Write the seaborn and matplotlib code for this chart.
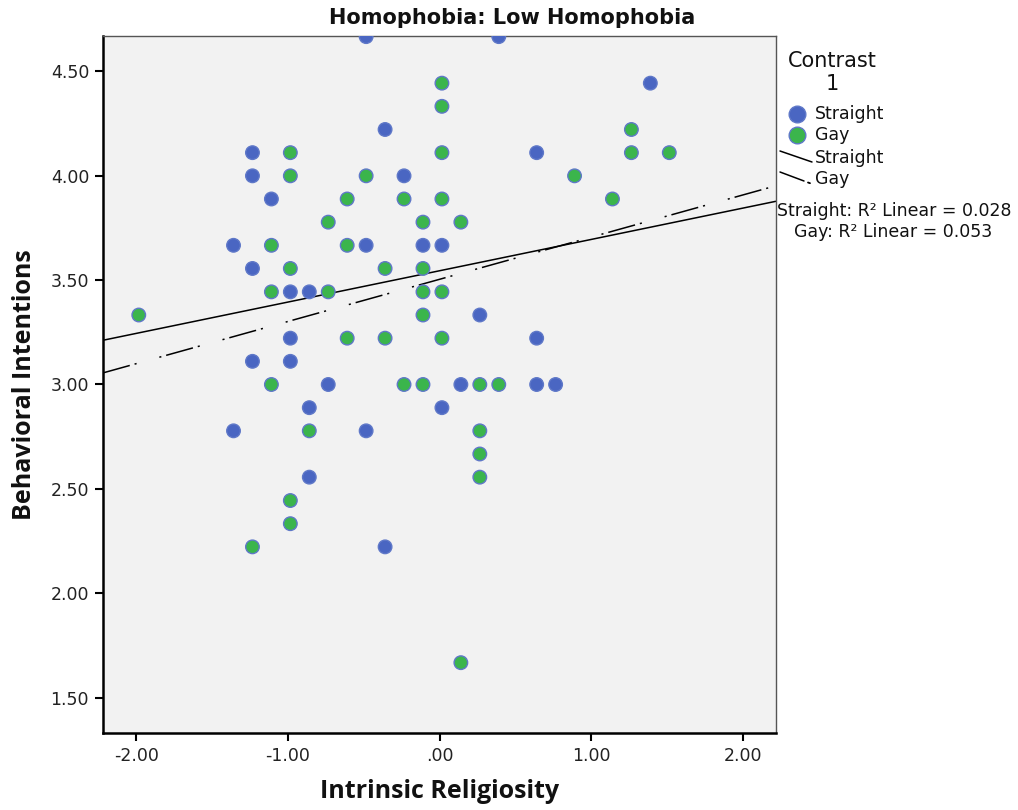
import numpy as np
import pandas as pd
import matplotlib
matplotlib.use("Agg")
import matplotlib.pyplot as plt
from matplotlib.lines import Line2D
from matplotlib.ticker import FuncFormatter, FixedLocator
import seaborn as sns

# Intrinsic religiosity (centered) and behavioral intentions, low-homophobia panel
straight_x = [-0.484, 0.391, 1.391, -0.359, -1.234, 0.641, -1.234, -0.234, -1.109,
              -1.359, -0.484, -0.109, 0.016, -1.234, -0.984, -0.859, 0.266, -0.984,
              0.641, -1.234, -0.984, -0.734, 0.141, 0.641, 0.766, -0.859, 0.016,
              -1.359, -0.484, -0.859, -0.359]
straight_y = [4.667, 4.667, 4.444, 4.222, 4.111, 4.111, 4.000, 4.000, 3.889,
              3.667, 3.667, 3.667, 3.667, 3.556, 3.444, 3.444, 3.333, 3.222,
              3.222, 3.111, 3.111, 3.000, 3.000, 3.000, 3.000, 2.889, 2.889,
              2.778, 2.778, 2.556, 2.222]

gay_x = [0.016, 0.016, 1.266, -0.984, 0.016, 1.266, 1.516, -0.984, -0.484, 0.891,
         -0.609, -0.234, 0.016, 1.141, -0.734, -0.109, 0.141, -1.109, -0.609,
         -0.984, -0.359, -0.109, -1.109, -0.734, -0.109, 0.016, -1.984, -0.109,
         -0.609, -0.359, 0.016, -1.109, -0.234, -0.109, 0.266, 0.391, -0.859,
         0.266, 0.266, 0.266, -0.984, -0.984, -1.234, 0.141]
gay_y = [4.444, 4.333, 4.222, 4.111, 4.111, 4.111, 4.111, 4.000, 4.000, 4.000,
         3.889, 3.889, 3.889, 3.889, 3.778, 3.778, 3.778, 3.667, 3.667,
         3.556, 3.556, 3.556, 3.444, 3.444, 3.444, 3.444, 3.333, 3.333,
         3.222, 3.222, 3.222, 3.000, 3.000, 3.000, 3.000, 3.000, 2.778,
         2.778, 2.667, 2.556, 2.444, 2.333, 2.222, 1.667]

groups = ["Straight", "Gay"]
# linear fit per group: intercept, slope, R-squared
fit_intercept = [3.545, 3.504]
fit_slope = [0.150, 0.202]
fit_r2 = [0.028, 0.053]

x_ticks = [-2.0, -1.0, 0.0, 1.0, 2.0]
y_ticks = [1.5, 2.0, 2.5, 3.0, 3.5, 4.0, 4.5]

df = pd.DataFrame({
    "Intrinsic Religiosity": straight_x + gay_x,
    "Behavioral Intentions": straight_y + gay_y,
    "Contrast": ["Straight"] * len(straight_x) + ["Gay"] * len(gay_x),
})

colors = {"Straight": "#4a66c2", "Gay": "#3bb54c"}
edge = "#5f78c8"
bg = "#f2f2f2"

sns.set_theme(style="white")
plt.rcParams["font.family"] = ["DejaVu Sans"]

fig = plt.figure(figsize=(10.18, 8.10), dpi=100)
ax = fig.add_axes([103 / 1018, 1 - 733 / 810, (776 - 103) / 1018, (733 - 36) / 810])
ax.set_facecolor(bg)

XLIM = (-2.22, 2.22)
YLIM = (1.33, 4.67)
ax.set_xlim(*XLIM)
ax.set_ylim(*YLIM)

# fit lines spanning the whole x range (dash-dot in points: dash, gap, dot, gap, dot, gap)
dashdot = [20, 3.6, 1.5, 17, 1.5, 3.6]
xs = np.array(XLIM)
for g, b0, b1 in zip(groups, fit_intercept, fit_slope):
    (ln,) = ax.plot(xs, b0 + b1 * xs, color="black", lw=1.1, zorder=1,
                    solid_capstyle="butt", dash_capstyle="butt")
    if g == "Gay":
        ln.set_dashes(dashdot)
        ln._dash_pattern = (0, dashdot)  # keep lengths in points regardless of width
        ln._unscaled_dash_pattern = (0, dashdot)

sns.scatterplot(data=df, x="Intrinsic Religiosity", y="Behavioral Intentions",
                hue="Contrast", hue_order=groups, palette=colors, s=95,
                edgecolor=edge, linewidth=1.0, legend=False, ax=ax, zorder=3)

ax.set_xlim(*XLIM)
ax.set_ylim(*YLIM)

def spss_fmt(v, _):
    s = f"{v:.2f}"
    if s.startswith("0."):
        s = s[1:]
    elif s.startswith("-0."):
        s = "-" + s[2:]
    return s

ax.xaxis.set_major_locator(FixedLocator(x_ticks))
ax.yaxis.set_major_locator(FixedLocator(y_ticks))
ax.xaxis.set_major_formatter(FuncFormatter(spss_fmt))
ax.yaxis.set_major_formatter(FuncFormatter(spss_fmt))
ax.tick_params(axis="both", which="major", direction="out", length=6, width=1.5,
               color="black", labelsize=12.5, labelcolor="#222222", pad=4,
               left=True, bottom=True)

for side in ["left", "bottom"]:
    ax.spines[side].set_color("black")
    ax.spines[side].set_linewidth(1.8)
for side in ["top", "right"]:
    ax.spines[side].set_color("#555555")
    ax.spines[side].set_linewidth(1.0)

ax.set_xlabel("Intrinsic Religiosity", fontsize=18, fontweight="bold",
              family="Open Sans", labelpad=10, color="#111111")
ax.set_ylabel("Behavioral Intentions", fontsize=18, fontweight="bold",
              family="Open Sans", labelpad=10, color="#111111")

def fx(px):
    return px / 1018

def fy(py):
    return 1 - py / 810

fig.text(fx(512), fy(18), "Homophobia: Low Homophobia", ha="center", va="center",
         fontsize=15, fontweight="bold", color="#111111")

# legend panel on the right
fig.text(fx(832), fy(61), "Contrast", ha="center", va="center", fontsize=15, color="#111111")
fig.text(fx(832), fy(84), "1", ha="center", va="center", fontsize=15, color="#111111")
for g, py in zip(groups, [114, 135]):
    fig.add_artist(Line2D([fx(797)], [fy(py)], transform=fig.transFigure, marker="o",
                          markersize=12, markerfacecolor=colors[g],
                          markeredgecolor=edge, markeredgewidth=1.0, linestyle="none"))
    fig.text(fx(815), fy(py), g, ha="left", va="center", fontsize=12.5, color="#111111")

fig.add_artist(Line2D([fx(780), fx(812)], [fy(151), fy(162)], transform=fig.transFigure,
                      color="black", lw=1.1))
fig.text(fx(815), fy(158), "Straight", ha="left", va="center", fontsize=12.5, color="#111111")
fig.add_artist(Line2D([fx(780), fx(804)], [fy(172), fy(181)], transform=fig.transFigure,
                      color="black", lw=1.1))
fig.add_artist(Line2D([fx(808), fx(810)], [fy(182.5), fy(183.2)], transform=fig.transFigure,
                      color="black", lw=1.3))
fig.text(fx(815), fy(179), "Gay", ha="left", va="center", fontsize=12.5, color="#111111")

fig.text(fx(894), fy(211), f"Straight: R\u00b2 Linear = {fit_r2[0]:.3f}",
         ha="center", va="center", fontsize=12.5, color="#111111")
fig.text(fx(893), fy(232), f"Gay: R\u00b2 Linear = {fit_r2[1]:.3f}",
         ha="center", va="center", fontsize=12.5, color="#111111")

fig.savefig("out.png", dpi=100, facecolor="white")
